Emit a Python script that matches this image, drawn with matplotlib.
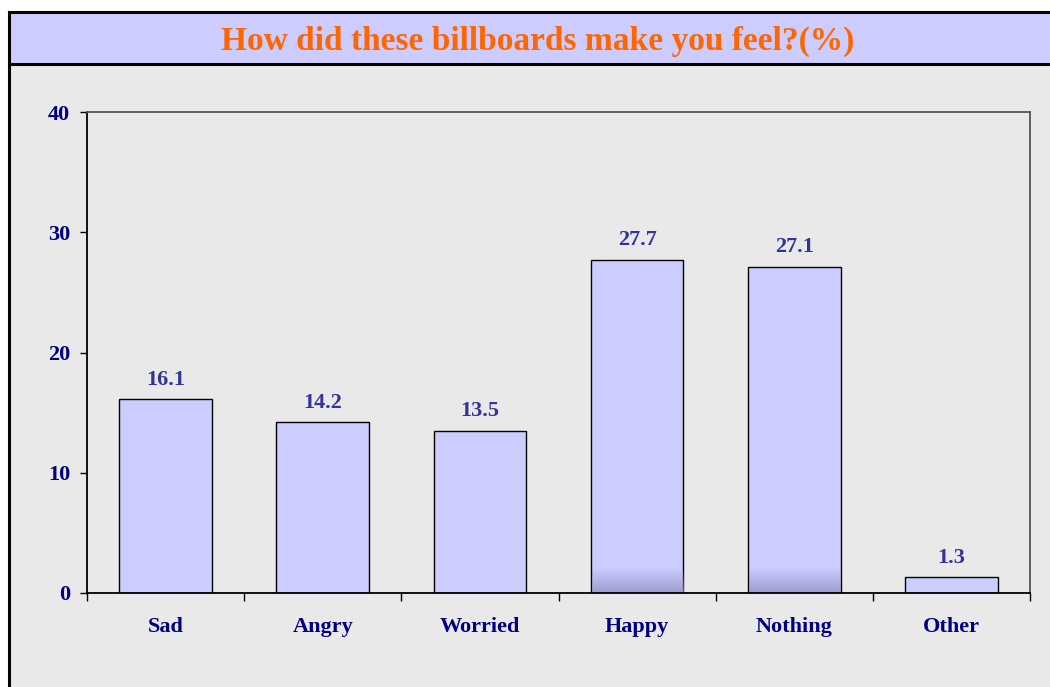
import numpy as np
import matplotlib
matplotlib.use("Agg")
import matplotlib.pyplot as plt
from matplotlib.patches import Rectangle
from matplotlib.lines import Line2D
from matplotlib.colors import LinearSegmentedColormap

categories = ["Sad", "Angry", "Worried", "Happy", "Nothing", "Other"]
values = [16.1, 14.2, 13.5, 27.7, 27.1, 1.3]
shaded = ["Happy", "Nothing"]  # these two bars have a darker base in the original
yticks = [0, 10, 20, 30, 40]

plt.rcParams['font.family'] = ['Liberation Serif', 'DejaVu Serif']
plt.rcParams['font.weight'] = 'bold'

fig = plt.figure(figsize=(10.5, 6.87), dpi=100)
fig.patch.set_facecolor("white")

W, H = 1050, 687
# grey panel + lavender title bar
fig.patches.append(Rectangle((9 / W, 0), 1, 1 - 12 / H, transform=fig.transFigure,
                             facecolor="#E9E9E9", edgecolor="none", zorder=-2))
fig.patches.append(Rectangle((9 / W, 1 - 64 / H), 1, 52 / H, transform=fig.transFigure,
                             facecolor="#CCCCFF", edgecolor="none", zorder=-1))
fig.lines.append(Line2D([9 / W, 1], [1 - 12 / H] * 2, transform=fig.transFigure, color="black", lw=2.2))
fig.lines.append(Line2D([9 / W, 1], [1 - 64 / H] * 2, transform=fig.transFigure, color="black", lw=2.2))
fig.lines.append(Line2D([9 / W] * 2, [0, 1 - 12 / H], transform=fig.transFigure, color="black", lw=2.2))

fig.text(0.512, 1 - 41 / H, "How did these billboards make you feel?(%)", ha="center", va="center",
         fontsize=24, fontweight="bold", color="#FF6600")

ax = fig.add_axes([87 / W, 1 - 593 / H, (1030 - 87) / W, (593 - 112) / H])
ax.set_zorder(2)
ax.set_facecolor("#E9E9E9")

x = np.arange(len(categories))
bars = ax.bar(x, values, width=0.59, color="#CCCCFF", edgecolor="black", linewidth=1.0, zorder=2)

# dark gradient at the base of some bars
cmap = LinearSegmentedColormap.from_list("base", [(0.55, 0.55, 0.75, 0.0), (0.55, 0.55, 0.75, 0.75)])
grad = np.linspace(0, 1, 50).reshape(-1, 1)
for b, c in zip(bars, categories):
    if c in shaded:
        ax.imshow(grad, cmap=cmap, aspect="auto", origin="upper", zorder=2.5,
                  extent=(b.get_x() + 0.005, b.get_x() + b.get_width() - 0.005, 0, 2.0))

for b, v in zip(bars, values):
    ax.annotate(f"{v}", (b.get_x() + b.get_width() / 2, v), xytext=(0, 7), textcoords="offset points",
                ha="center", va="bottom", fontsize=16, fontweight="bold", color="#333399")

ax.set_xlim(-0.5, len(categories) - 0.5)
ax.set_ylim(0, 40)
ax.set_yticks(yticks)
ax.set_xticks(x)
ax.set_xticklabels(categories)
ax.set_xticks(np.arange(-0.5, len(categories)), minor=True)
ax.tick_params(axis="x", which="major", length=0, pad=17, labelsize=16, labelcolor="#000080")
ax.tick_params(axis="x", which="minor", length=6, direction="out", width=1.0)
ax.tick_params(axis="y", length=5, direction="out", pad=7, labelsize=16, labelcolor="#000080", width=1.0)
for lab in ax.get_xticklabels() + ax.get_yticklabels():
    lab.set_fontweight("bold")

for s in ["top", "right", "left"]:
    ax.spines[s].set_color("#555555")
    ax.spines[s].set_linewidth(1.3)
ax.spines["bottom"].set_color("black")
ax.spines["bottom"].set_linewidth(1.3)
ax.spines["left"].set_color("black")

plt.savefig("out.png", dpi=100)
